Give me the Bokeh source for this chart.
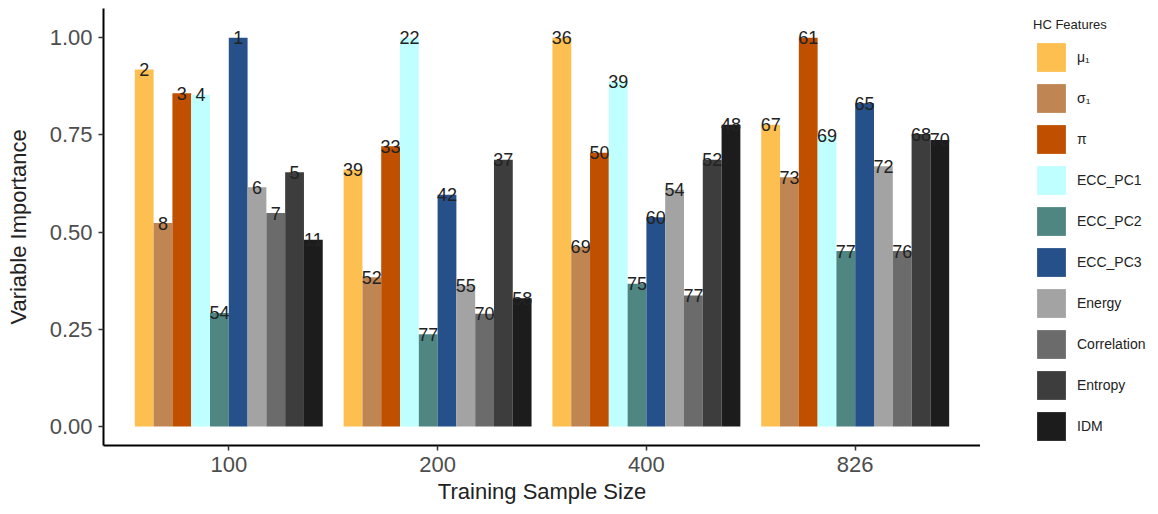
from bokeh.plotting import figure
from bokeh.layouts import row
from bokeh.models import (ColumnDataSource, FactorRange, Range1d, FixedTicker,
                          NumeralTickFormatter, Legend, LegendItem)
from bokeh.transform import dodge
from bokeh.core.properties import value
from bokeh.embed import file_html
from bokeh.resources import INLINE

sizes = ["100", "200", "400", "826"]
features = ["μ₁", "σ₁", "π", "ECC_PC1", "ECC_PC2", "ECC_PC3",
            "Energy", "Correlation", "Entropy", "IDM"]
colors = ["#FDBF50", "#BF8552", "#C05000", "#C0FFFF", "#4F8682",
          "#26508A", "#A3A3A3", "#6B6B6B", "#3D3D3D", "#1C1C1C"]

# importance values per feature, for sizes 100, 200, 400, 826
mu1 = [0.918, 0.661, 1.000, 0.776]
sigma1 = [0.523, 0.384, 0.462, 0.641]
pi_ = [0.857, 0.721, 0.704, 1.000]
ecc_pc1 = [0.853, 1.000, 0.887, 0.748]
ecc_pc2 = [0.292, 0.237, 0.367, 0.451]
ecc_pc3 = [1.000, 0.596, 0.538, 0.831]
energy = [0.615, 0.362, 0.609, 0.669]
correlation = [0.549, 0.290, 0.337, 0.451]
entropy = [0.654, 0.686, 0.686, 0.752]
idm = [0.480, 0.330, 0.776, 0.737]

# rank labels per feature
rank_mu1 = [2, 39, 36, 67]
rank_sigma1 = [8, 52, 69, 73]
rank_pi = [3, 33, 50, 61]
rank_pc1 = [4, 22, 39, 69]
rank_pc2 = [54, 77, 75, 77]
rank_pc3 = [1, 42, 60, 65]
rank_energy = [6, 55, 54, 72]
rank_corr = [7, 70, 77, 76]
rank_entropy = [5, 37, 52, 68]
rank_idm = [11, 58, 48, 70]

values = [mu1, sigma1, pi_, ecc_pc1, ecc_pc2, ecc_pc3, energy, correlation, entropy, idm]
ranks = [rank_mu1, rank_sigma1, rank_pi, rank_pc1, rank_pc2, rank_pc3,
         rank_energy, rank_corr, rank_entropy, rank_idm]

FONT = "Liberation Sans"

p = figure(width=980, height=514, output_backend="svg", toolbar_location=None,
           x_range=FactorRange(factors=sizes, range_padding=0.1, range_padding_units="absolute"),
           y_range=Range1d(-0.049, 1.075),
           min_border_left=103, min_border_right=0, min_border_top=8, min_border_bottom=69)
p.outline_line_color = None
p.xgrid.visible = False
p.ygrid.visible = False
p.background_fill_color = "white"

# legend panel to the right of the plot
lf = figure(width=178, height=514, output_backend="svg", toolbar_location=None,
            x_axis_type=None, y_axis_type=None, min_border=0,
            x_range=p.x_range, y_range=Range1d(0, 1))
lf.outline_line_color = None
lf.xgrid.visible = False
lf.ygrid.visible = False

n = len(features)
bw = 0.9 / n
items = []
for i, (feat, col, vals, rk) in enumerate(zip(features, colors, values, ranks)):
    off = -0.45 + bw * (i + 0.5)
    src = ColumnDataSource(dict(size=sizes, val=vals, lab=[str(r) for r in rk]))
    p.vbar(x=dodge("size", off, range=p.x_range), top="val", width=bw, source=src,
           fill_color=col, line_color=None)
    p.text(x=dodge("size", off, range=p.x_range), y="val", text="lab", source=src,
           text_align="center", text_baseline="alphabetic", text_font_size="18px",
           text_color="#222222", text_font=value(FONT))
    # hidden twin of the bar series, only used to draw its legend swatch
    lr = lf.vbar(x=dodge("size", off, range=p.x_range), top="val", width=bw, source=src,
                 fill_color=col, line_color=None, visible=False)
    items.append(LegendItem(label=feat, renderers=[lr]))

legend = Legend(items=items, location=(53, 1), title="HC Features",
                title_text_font_size="13px", title_text_font=FONT, title_text_color="#222222",
                title_text_font_style="normal",
                title_standoff=7, label_text_font_size="14px", label_text_font=FONT,
                label_text_color="#222222", glyph_width=36, glyph_height=36, spacing=5,
                label_standoff=8, padding=0, margin=0, border_line_color=None,
                background_fill_alpha=0, inactive_fill_alpha=0)
lf.add_layout(legend, "center")

for ax in (p.xaxis[0], p.yaxis[0]):
    ax.axis_line_color = "black"
    ax.axis_line_width = 2
    ax.major_tick_line_color = "#333333"
    ax.major_tick_line_width = 1.5
    ax.major_tick_out = 5
    ax.major_tick_in = 0
    ax.minor_tick_line_color = None
    ax.major_label_text_font_size = "22px"
    ax.major_label_text_color = "#4D4D4D"
    ax.major_label_text_font = FONT
    ax.axis_label_text_font_size = "22px"
    ax.axis_label_text_font = FONT
    ax.axis_label_text_color = "#222222"
    ax.axis_label_text_font_style = "normal"

p.yaxis[0].ticker = FixedTicker(ticks=[0, 0.25, 0.5, 0.75, 1.0])
p.yaxis[0].formatter = NumeralTickFormatter(format="0.00")
p.yaxis[0].axis_label = "Variable Importance"
p.yaxis[0].axis_label_standoff = 16
p.yaxis[0].major_label_standoff = 6
p.xaxis[0].axis_label = "Training Sample Size"
p.xaxis[0].axis_label_standoff = 4
p.xaxis[0].major_label_standoff = 6

layout = row(p, lf, spacing=0)
open("out.html", "w").write(file_html(layout, INLINE))
